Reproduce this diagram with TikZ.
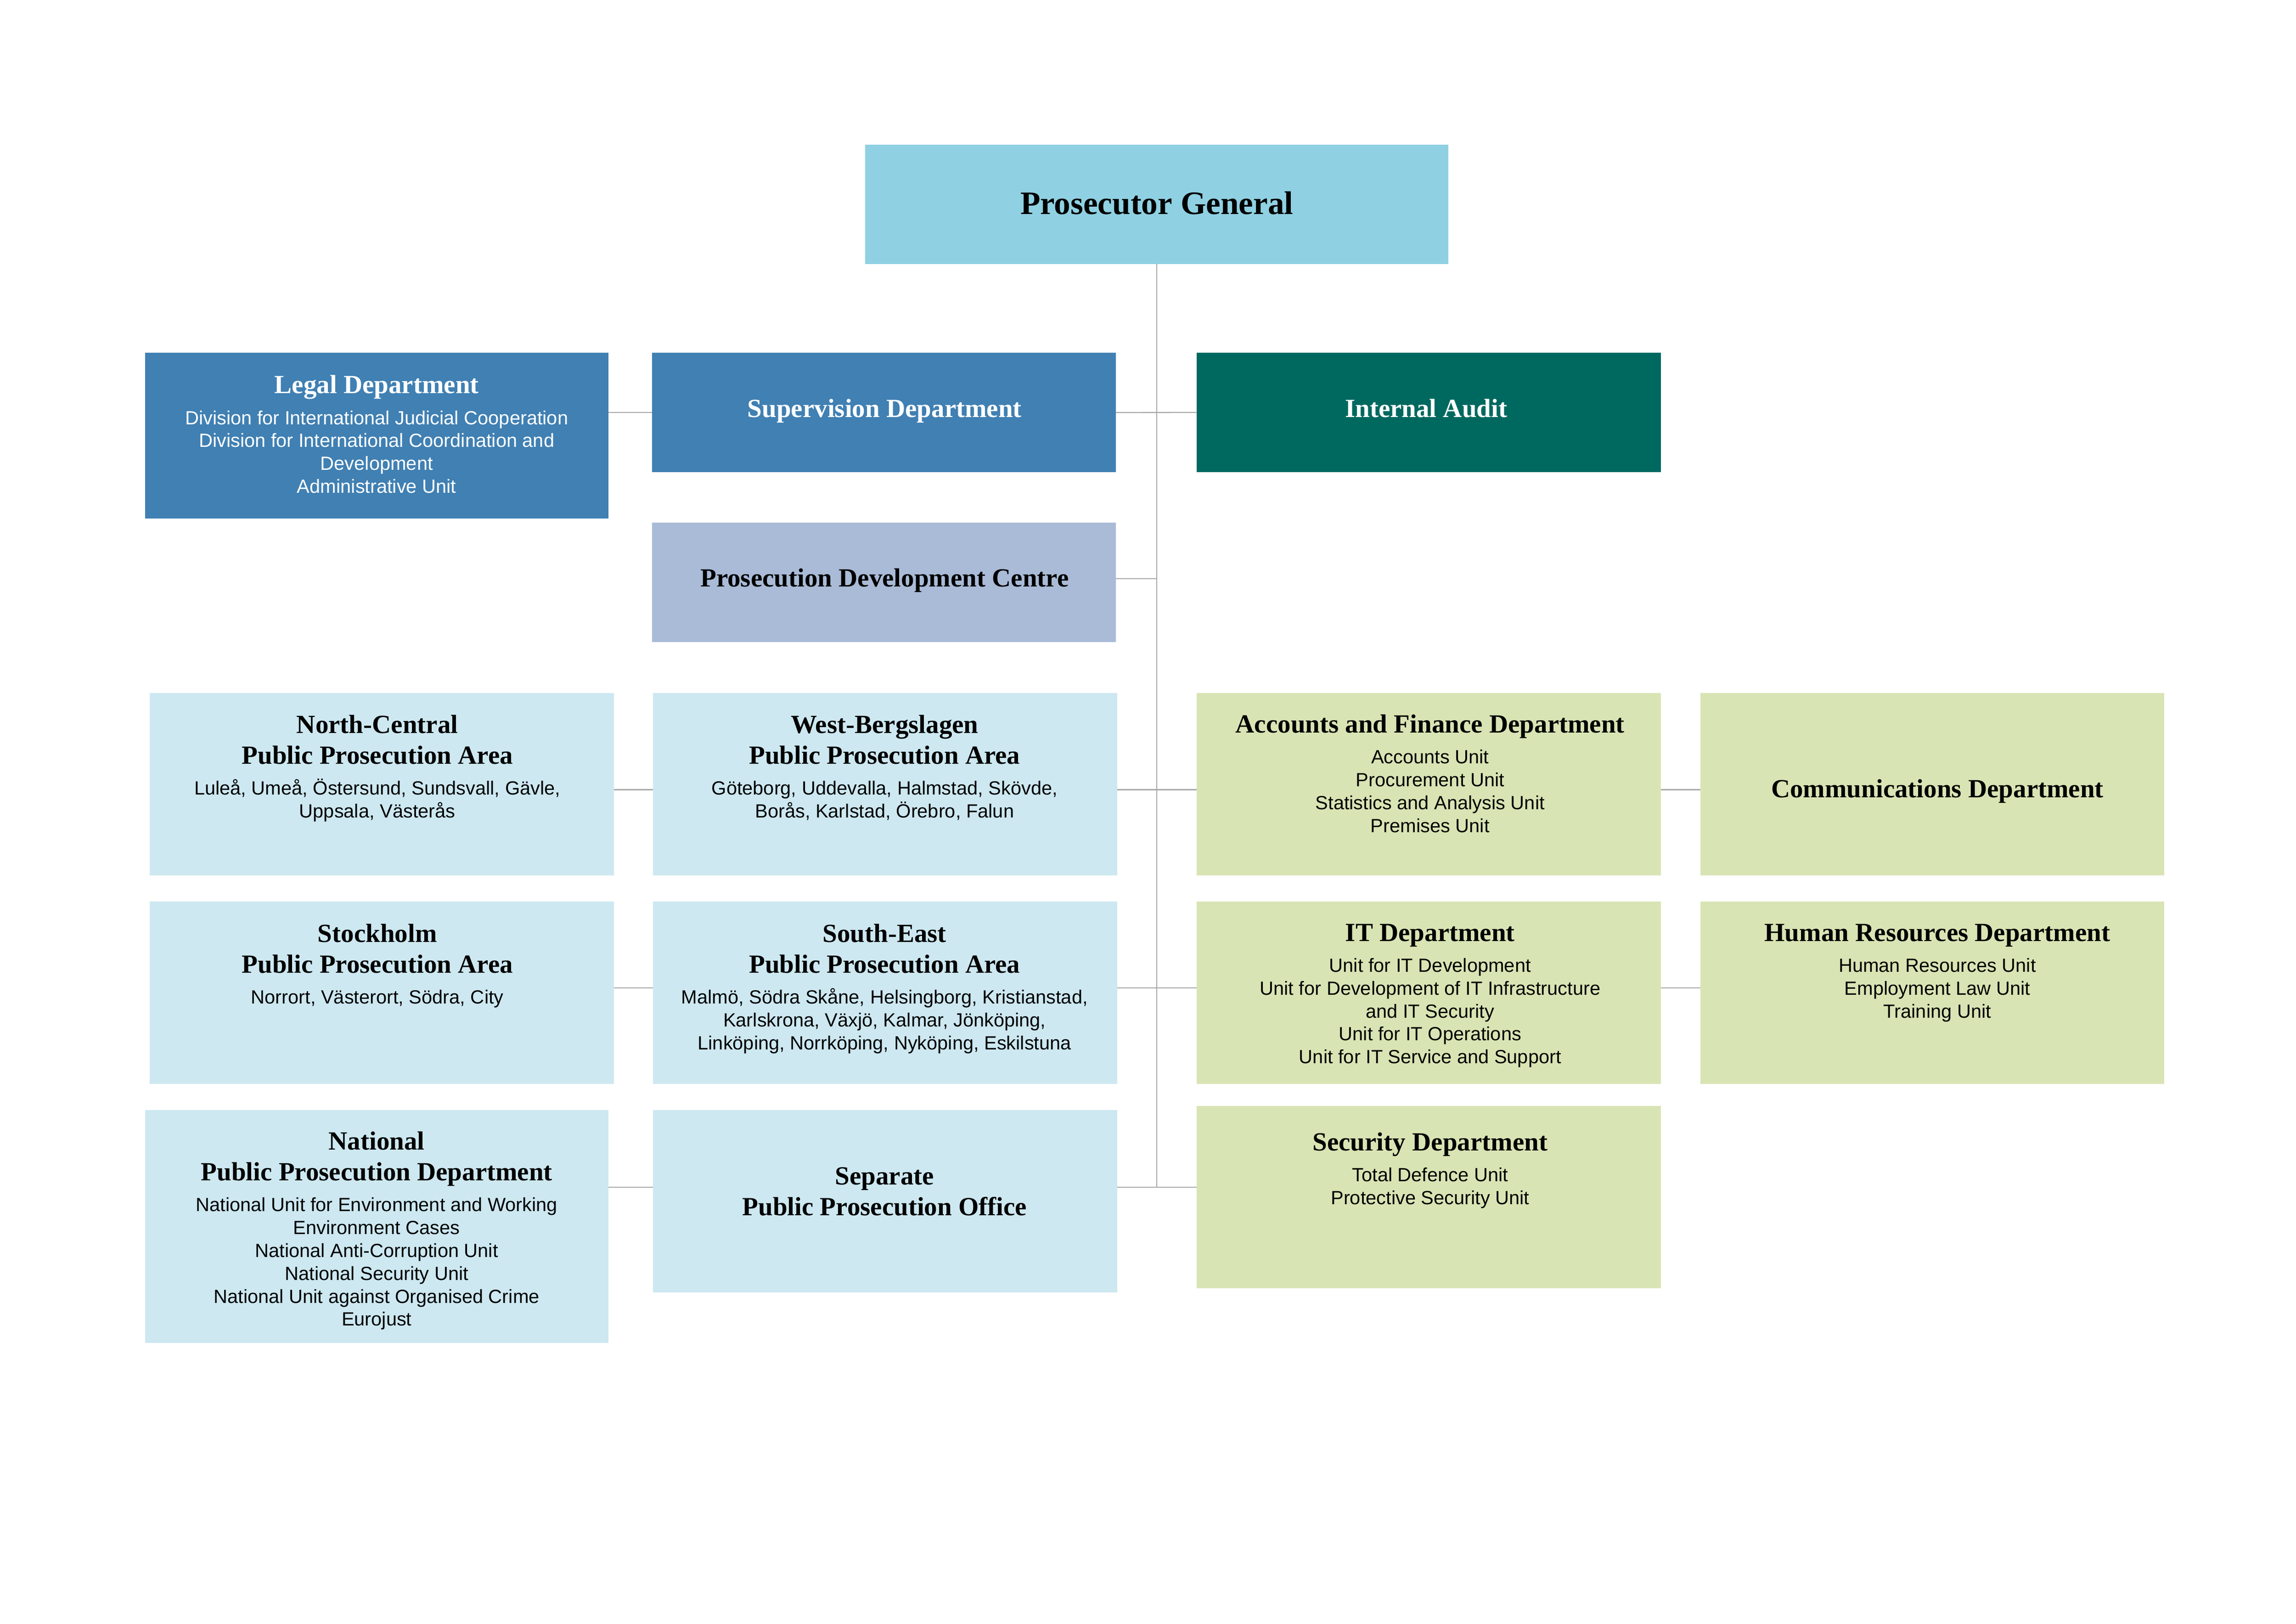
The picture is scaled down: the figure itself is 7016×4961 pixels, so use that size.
\documentclass[tikz,border=0pt]{standalone}
\usepackage{fontspec}
\setmainfont{Liberation Serif}
\setsansfont{Liberation Sans}
\usetikzlibrary{fit}
\definecolor{pgcol}{HTML}{8FD1E2}
\definecolor{bluecol}{HTML}{4080B3}
\definecolor{pdccol}{HTML}{A9BBD7}
\definecolor{tealcol}{HTML}{00695F}
\definecolor{lbcol}{HTML}{CDE8F1}
\definecolor{grcol}{HTML}{D9E4B4}
\definecolor{linecol}{HTML}{A6A6A6}
\newcommand\ttl{\fontsize{9.6}{11.3}\selectfont\rmfamily\bfseries}
\newcommand\pgfnt{\fontsize{12}{14}\selectfont\rmfamily\bfseries}
\newcommand\subt{\fontsize{7}{8.4}\selectfont\sffamily\mdseries}
\newcommand\tgap{\par\vspace{2.9pt}}
\newcommand\ctr{\centering\spaceskip=0pt\xspaceskip=0pt\relax}
\tikzset{
  box/.style={draw=none, inner sep=0pt, outer sep=0pt},
  txt/.style={inner sep=0pt, outer sep=0pt, text width=168pt, anchor=north},
  single/.style={inner sep=0pt, outer sep=0pt, anchor=base, font=\ttl},
  conn/.style={draw=linecol, line width=0.4pt}
}
\begin{document}
\begin{tikzpicture}[x=0.12pt,y=-0.12pt]
\useasboundingbox (0,0) rectangle (7016,4961);
% boxes
\node[box, fill=pgcol,   fit={(2643,442) (4426,807)}]   (pg) {};
\node[box, fill=bluecol, fit={(443,1078) (1859,1584)}]  (legal) {};
\node[box, fill=bluecol, fit={(1992,1078) (3410,1443)}] (sup) {};
\node[box, fill=tealcol, fit={(3656,1078) (5076,1442)}] (ia) {};
\node[box, fill=pdccol,  fit={(1992,1597) (3410,1961)}] (pdc) {};
\node[box, fill=lbcol,   fit={(457,2117) (1876,2674)}]  (nc) {};
\node[box, fill=lbcol,   fit={(1996,2117) (3414,2674)}] (wb) {};
\node[box, fill=grcol,   fit={(3657,2118) (5075,2674)}] (acc) {};
\node[box, fill=grcol,   fit={(5196,2118) (6613,2674)}] (comm) {};
\node[box, fill=lbcol,   fit={(457,2754) (1876,3311)}]  (sth) {};
\node[box, fill=lbcol,   fit={(1996,2754) (3414,3311)}] (se) {};
\node[box, fill=grcol,   fit={(3657,2754) (5075,3312)}] (it) {};
\node[box, fill=grcol,   fit={(5196,2754) (6613,3312)}] (hr) {};
\node[box, fill=lbcol,   fit={(443,3392) (1859,4103)}]  (nat) {};
\node[box, fill=lbcol,   fit={(1996,3391) (3414,3948)}] (sep) {};
\node[box, fill=grcol,   fit={(3657,3379) (5075,3936)}] (sec) {};
% line levels
\coordinate (r0) at (0,1768);
\coordinate (r1) at (0,2413);
\coordinate (r2) at (0,3018);
\coordinate (r3) at (0,3627);
% connectors
\draw[conn] (pg.south) -- (pg.south |- r3);
\draw[conn] (legal.east |- sup.west) -- (sup.west);
\draw[conn] (sup.east) -- (ia.west);
\draw[conn] (pdc.east |- r0) -- (pg.south |- r0);
\draw[conn] (nc.east |- r1) -- (wb.west |- r1);
\draw[conn] (wb.east |- r1) -- (acc.west |- r1);
\draw[conn] (acc.east |- r1) -- (comm.west |- r1);
\draw[conn] (sth.east |- r2) -- (se.west |- r2);
\draw[conn] (se.east |- r2) -- (it.west |- r2);
\draw[conn] (it.east |- r2) -- (hr.west |- r2);
\draw[conn] (nat.east |- r3) -- (sep.west |- r3);
\draw[conn] (sep.east |- r3) -- (sec.west |- r3);
% single-line titles
\node[single, font=\pgfnt] (pgT) at (3535,654) {Prosecutor General};
\node[single, text=white] (supT) at (2703,1275) {Supervision Department};
\node[single, text=white] (iaT) at (4358,1275) {Internal Audit};
\node[single] (pdcT) at (2703,1793) {Prosecution Development Centre};
\node[single] (commT) at (5920,2436) {Communications Department};
% multi-line texts
\node[txt, text=white] (legalT) at (1151,1147) {\ctr\ttl Legal Department\tgap\subt Division for International Judicial Cooperation\\Division for International Coordination and\\Development\\Administrative Unit\par};
\node[txt] (ncT) at (1153,2185) {\ctr\ttl North-Central\\Public Prosecution Area\tgap\subt Luleå, Umeå, Östersund, Sundsvall, Gävle,\\Uppsala, Västerås\par};
\node[txt] (wbT) at (2703,2185) {\ctr\ttl West-Bergslagen\\Public Prosecution Area\tgap\subt Göteborg, Uddevalla, Halmstad, Skövde,\\Borås, Karlstad, Örebro, Falun\par};
\node[txt] (accT) at (4370,2183) {\ctr\ttl Accounts and Finance Department\tgap\subt Accounts Unit\\Procurement Unit\\Statistics and Analysis Unit\\Premises Unit\par};
\node[txt] (sthT) at (1153,2823) {\ctr\ttl Stockholm\\Public Prosecution Area\tgap\subt Norrort, Västerort, Södra, City\par};
\node[txt] (seT) at (2703,2823) {\ctr\ttl South-East\\Public Prosecution Area\tgap\subt Malmö, Södra Skåne, Helsingborg, Kristianstad,\\Karlskrona, Växjö, Kalmar, Jönköping,\\Linköping, Norrköping, Nyköping, Eskilstuna\par};
\node[txt] (itT) at (4370,2823) {\ctr\ttl IT Department\tgap\subt Unit for IT Development\\Unit for Development of IT Infrastructure\\and IT Security\\Unit for IT Operations\\Unit for IT Service and Support\par};
\node[txt] (hrT) at (5920,2823) {\ctr\ttl Human Resources Department\tgap\subt Human Resources Unit\\Employment Law Unit\\Training Unit\par};
\node[txt] (natT) at (1151,3457) {\ctr\ttl National\\Public Prosecution Department\tgap\subt National Unit for Environment and Working\\Environment Cases\\National Anti-Corruption Unit\\National Security Unit\\National Unit against Organised Crime\\Eurojust\par};
\node[txt] (sepT) at (2703,3566) {\ctr\ttl Separate\\Public Prosecution Office\par};
\node[txt] (secT) at (4370,3460) {\ctr\ttl Security Department\tgap\subt Total Defence Unit\\Protective Security Unit\par};
\end{tikzpicture}
\end{document}
